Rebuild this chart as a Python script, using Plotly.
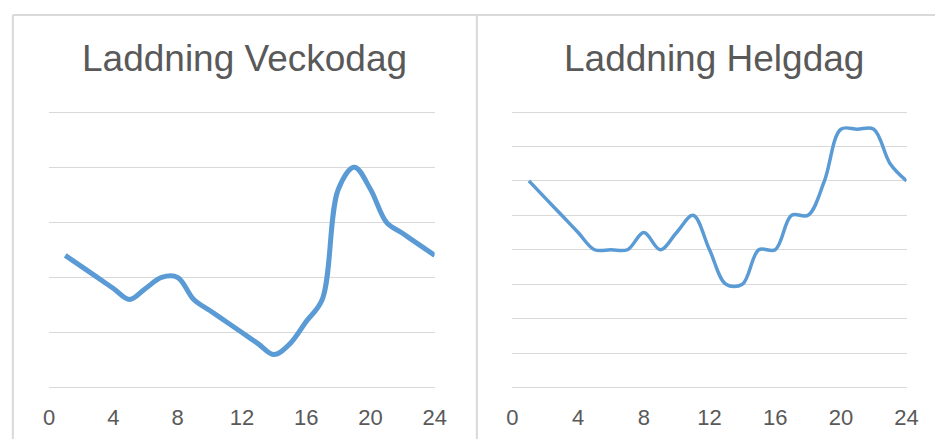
import plotly.graph_objects as go

# Hourly charging counts (hour 1..24)
hours = list(range(1, 25))
weekday = [12, 11, 10, 9, 8, 9, 10, 10, 8, 7, 6, 5, 4, 3, 4, 6, 8, 18, 20, 18, 15, 14, 13, 12]
weekend = [12, 11, 10, 9, 8, 8, 8, 9, 8, 9, 10, 8, 6, 6, 8, 8, 10, 10, 12, 15, 15, 15, 13, 12]
titles = ["Laddning Veckodag", "Laddning Helgdag"]
x_ticks = [0, 4, 8, 12, 16, 20, 24]

W, H = 947, 439
FONT = "Liberation Sans, Arial, sans-serif"
TEXT = "#595959"
GRID = "#D9D9D9"
BLUE = "#5B9BD5"


def px_x(p):
    return p / W


def px_y(p):
    return 1 - p / H


def y_layout(bottom_px, top_px, vmax, step):
    # pad the value range a little so the first and last gridlines are kept
    pad_px = 1.5
    per_px = vmax / (bottom_px - top_px)
    pad = pad_px * per_px
    return dict(
        domain=[px_y(bottom_px + pad_px), px_y(top_px - pad_px)],
        range=[-pad, vmax + pad], dtick=step, tick0=0,
    )


fig = go.Figure()

fig.add_trace(go.Scatter(
    x=hours, y=weekday, mode="lines",
    line=dict(color=BLUE, width=5, shape="spline", smoothing=1),
    xaxis="x", yaxis="y", hoverinfo="skip", showlegend=False,
))
fig.add_trace(go.Scatter(
    x=hours, y=weekend, mode="lines",
    line=dict(color=BLUE, width=3.5, shape="spline", smoothing=1),
    xaxis="x2", yaxis="y2", hoverinfo="skip", showlegend=False,
))

xax = dict(
    range=[0, 24], tickmode="array", tickvals=x_ticks,
    showgrid=False, zeroline=False, showline=False, ticks="",
    ticklabelstandoff=13,
    tickfont=dict(family=FONT, size=22, color=TEXT),
    fixedrange=True,
)
yax = dict(
    showgrid=True, gridcolor=GRID, gridwidth=1.3,
    zeroline=False, showline=False, ticks="", showticklabels=False,
    fixedrange=True,
)

fig.update_layout(
    width=W, height=H,
    margin=dict(l=0, r=0, t=0, b=0),
    paper_bgcolor="white", plot_bgcolor="white",
    xaxis=dict(xax, domain=[px_x(44), px_x(437)], anchor="y"),
    yaxis=dict(yax, anchor="x", **y_layout(387.7, 112, 25, 5)),
    xaxis2=dict(xax, domain=[px_x(516.3), px_x(918)], anchor="y2"),
    yaxis2=dict(yax, anchor="x2", **y_layout(387.5, 112, 16, 2)),
)

# Chart frames: top edge, left edge, and the divider between the two panels
frame = dict(type="line", xref="paper", yref="paper",
             line=dict(color=GRID, width=2), layer="below")
fig.add_shape(frame, x0=px_x(7), x1=1, y0=px_y(15), y1=px_y(15))
fig.add_shape(frame, x0=px_x(7), x1=px_x(7), y0=px_y(15), y1=0)
fig.add_shape(frame, x0=px_x(480), x1=px_x(480), y0=px_y(15), y1=0)

for cx, t in zip([243.5, 722], titles):
    fig.add_annotation(
        text=t, x=px_x(cx), y=px_y(59), xref="paper", yref="paper",
        xanchor="center", yanchor="middle", showarrow=False,
        font=dict(family=FONT, size=37, color=TEXT),
    )

fig.write_html("out.html")
